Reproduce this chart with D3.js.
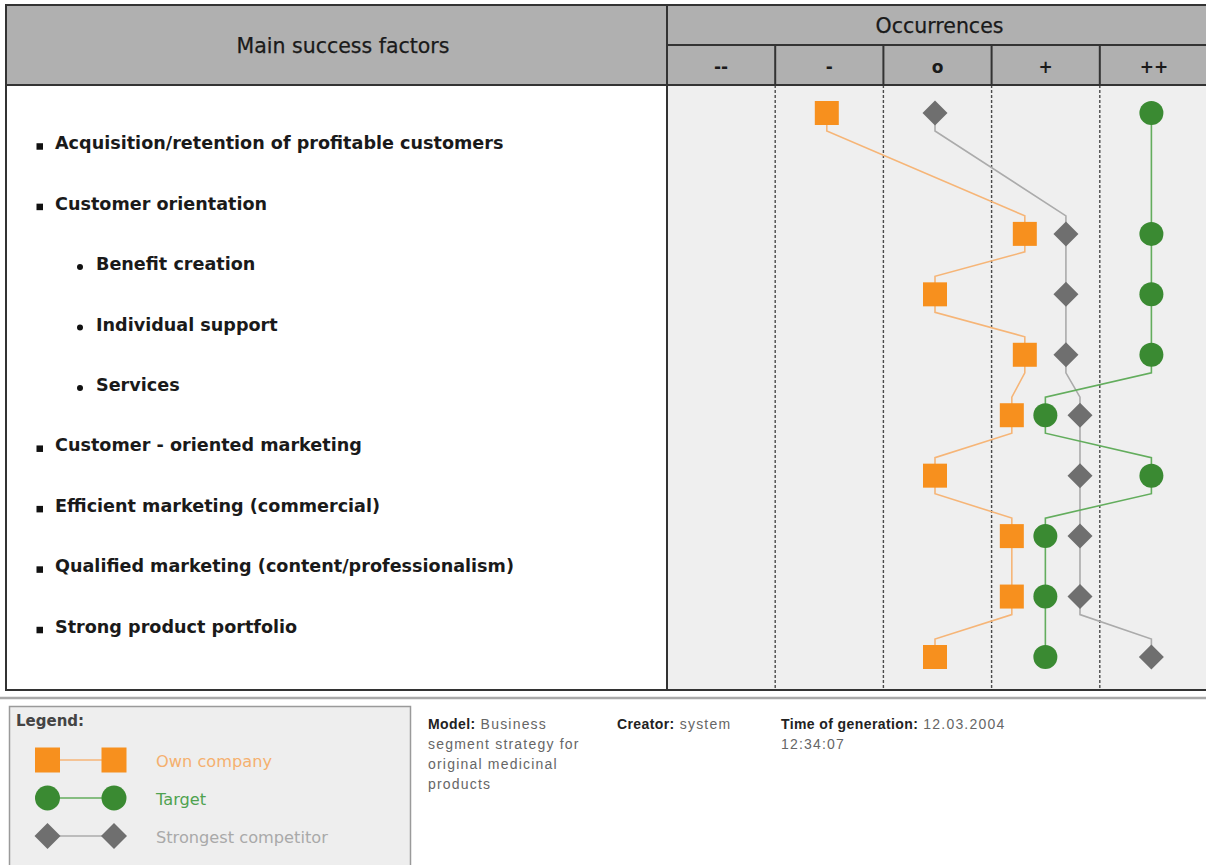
<!DOCTYPE html>
<html>
<head>
<meta charset="utf-8">
<title>Main success factors</title>
<script src="https://cdn.jsdelivr.net/npm/d3@7"></script>
<style>
  body { margin: 0; background: #fff; }
  svg { display: block; }
  .hdr { font-family: "DejaVu Sans", sans-serif; fill: #1a1a1a; stroke: #1a1a1a; stroke-width: 0.25px; }
  .lbl { font-family: "DejaVu Sans", sans-serif; font-weight: bold; fill: #1a1a1a; }
  .foot { font-family: "Liberation Sans", Arial, sans-serif; font-size: 14px; letter-spacing: 1.2px; fill: #666; }
  .foot .k { font-weight: bold; fill: #222; letter-spacing: 0.4px; }
</style>
</head>
<body>
<script>
// ---- data ----
let factors = [
  "Acquisition/retention of profitable customers",
  "Customer orientation",
  "Benefit creation",
  "Individual support",
  "Services",
  "Customer - oriented marketing",
  "Efficient marketing (commercial)",
  "Qualified marketing (content/professionalism)",
  "Strong product portfolio"
];
let levels = [1, 1, 2, 2, 2, 1, 1, 1, 1];
let occurrences = ["--", "-", "o", "+", "++"];
// 0 = "--" ... 4 = "++"
let ownCompany = [1.0, 2.83, 2.0, 2.83, 2.71, 2.0, 2.71, 2.71, 2.0];
let target     = [4.0, 4.0, 4.0, 4.0, 3.02, 4.0, 3.02, 3.02, 3.02];
let competitor = [2.0, 3.21, 3.21, 3.21, 3.34, 3.34, 3.34, 3.34, 4.0];

let seriesNames = ["Own company", "Target", "Strongest competitor"];

let chartW = 1206, chartH = 865;
let frameL = 6, frameT = 5, split = 667, frameR = 1208, headMid = 45, headBot = 85, bodyBot = 690;

let colors = {
  own: { mark: "#f7901e", line: "#f6b577", text: "#f5b06e" },
  target: { mark: "#3a8a32", line: "#63ad5d", text: "#4fa24f" },
  comp: { mark: "#6f6f6f", line: "#ababab", text: "#a9a9a9" }
};

let svg = d3.select("body").append("svg")
  .attr("width", chartW)
  .attr("height", chartH);

// scales
let xBand = d3.scaleBand().domain(occurrences).range([split, frameR]);
let x = d3.scaleLinear().domain([0, 4])
  .range([xBand(occurrences[0]) + xBand.bandwidth() / 2 - 2.5,
          xBand(occurrences[4]) + xBand.bandwidth() / 2 - 2.5]);
let y = d3.scaleLinear().domain([0, 9]).range([113, 657]);
let markSlot = function (i) { return i === 0 ? 0 : i + 1; };

// backgrounds
svg.append("rect").attr("x", frameL).attr("y", frameT).attr("width", frameR - frameL).attr("height", headBot - frameT)
  .attr("fill", "#b0b0b0");
svg.append("rect").attr("x", split).attr("y", headBot).attr("width", frameR - split).attr("height", bodyBot - headBot)
  .attr("fill", "#efefef");

// dashed column guides
svg.append("g").selectAll("line")
  .data(occurrences.slice(1))
  .join("line")
  .attr("x1", d => xBand(d)).attr("x2", d => xBand(d))
  .attr("y1", headBot).attr("y2", bodyBot)
  .attr("stroke", "#4a4a4a").attr("stroke-width", 1.4)
  .attr("stroke-dasharray", "3,2");

// header borders
let borders = svg.append("g").attr("stroke", "#333").attr("stroke-width", 2).attr("fill", "none");
borders.append("rect").attr("x", frameL).attr("y", frameT).attr("width", frameR - frameL).attr("height", bodyBot - frameT);
borders.append("line").attr("x1", frameL).attr("x2", frameR).attr("y1", headBot).attr("y2", headBot);
borders.append("line").attr("x1", split).attr("x2", frameR).attr("y1", headMid).attr("y2", headMid);
borders.append("line").attr("x1", split).attr("x2", split).attr("y1", frameT).attr("y2", bodyBot);
borders.selectAll("line.col")
  .data(occurrences.slice(1))
  .join("line").attr("class", "col")
  .attr("x1", d => xBand(d)).attr("x2", d => xBand(d))
  .attr("y1", headMid).attr("y2", headBot);

// header texts
svg.append("text").attr("class", "hdr").attr("x", 343).attr("y", 46)
  .attr("text-anchor", "middle").attr("dominant-baseline", "central")
  .style("font-size", "20.5px").text("Main success factors");
svg.append("text").attr("class", "hdr").attr("x", (split + frameR) / 2 + 2).attr("y", 26)
  .attr("text-anchor", "middle").attr("dominant-baseline", "central")
  .style("font-size", "20.5px").text("Occurrences");
svg.append("g").selectAll("text")
  .data(occurrences)
  .join("text").attr("class", "lbl")
  .attr("x", d => xBand(d) + xBand.bandwidth() / 2)
  .attr("y", 67)
  .attr("text-anchor", "middle").attr("dominant-baseline", "central")
  .style("font-size", "17px")
  .text(d => d);

// factor labels with bullets
let rows = svg.append("g").selectAll("g")
  .data(factors)
  .join("g")
  .attr("transform", (d, i) => "translate(0," + y(i + 0.5) + ")");
rows.each(function (d, i) {
  let g = d3.select(this);
  if (levels[i] === 1) {
    g.append("rect").attr("x", 36.5).attr("y", 0).attr("width", 6.5).attr("height", 6.5).attr("fill", "#111");
  } else {
    g.append("circle").attr("cx", 80).attr("cy", 3).attr("r", 3).attr("fill", "#111");
  }
});
rows.append("text").attr("class", "lbl")
  .attr("x", (d, i) => levels[i] === 1 ? 55 : 96)
  .attr("y", 0)
  .attr("dominant-baseline", "central")
  .style("font-size", "17.6px")
  .text(d => d);

// connecting lines with short vertical stubs
let stub = 18;
let linkPath = function (values) {
  let p = d3.path();
  values.forEach(function (v, i) {
    let px = x(v), py = y(markSlot(i));
    if (i === 0) {
      p.moveTo(px, py);
    } else {
      let qx = x(values[i - 1]), qy = y(markSlot(i - 1));
      p.lineTo(qx, qy + stub);
      p.lineTo(px, py - stub);
      p.lineTo(px, py);
    }
  });
  return p.toString();
};

let diamond = function (s) {
  return "M0," + (-s) + "L" + s + ",0L0," + s + "L" + (-s) + ",0Z";
};

let series = [
  { key: "own", values: ownCompany },
  { key: "comp", values: competitor },
  { key: "target", values: target }
];

let markShape = function (key, s) {
  if (key === "own") return d3.symbol(d3.symbolSquare, s * s)();
  if (key === "target") return d3.symbol(d3.symbolCircle, Math.PI * (s / 2) * (s / 2))();
  return diamond(s / 2 + 0.5);
};

svg.append("g").selectAll("path")
  .data(series)
  .join("path")
  .attr("d", d => linkPath(d.values))
  .attr("fill", "none")
  .attr("stroke", d => colors[d.key].line)
  .attr("stroke-width", 1.6);

series.forEach(function (s) {
  svg.append("g").selectAll("path")
    .data(s.values)
    .join("path")
    .attr("transform", (v, i) => "translate(" + x(v) + "," + y(markSlot(i)) + ")")
    .attr("d", markShape(s.key, 24))
    .attr("fill", colors[s.key].mark);
});

// bottom separator
svg.append("line").attr("x1", 0).attr("x2", chartW).attr("y1", 698).attr("y2", 698)
  .attr("stroke", "#a8a8a8").attr("stroke-width", 2.5);

// legend box
let legend = svg.append("g");
legend.append("rect").attr("x", 9.5).attr("y", 706.5).attr("width", 401).attr("height", 170)
  .attr("fill", "#eeeeee").attr("stroke", "#9a9a9a").attr("stroke-width", 1.5);
legend.append("text").attr("x", 16).attr("y", 726)
  .style("font-family", "DejaVu Sans, sans-serif").style("font-weight", "bold")
  .style("font-size", "15px").attr("fill", "#444").text("Legend:");

let legendKeys = ["own", "target", "comp"];
let legendY = d3.scalePoint().domain(legendKeys).range([760, 836]);
let legendRows = legend.selectAll("g.item")
  .data(legendKeys)
  .join("g").attr("class", "item")
  .attr("transform", d => "translate(0," + legendY(d) + ")");
legendRows.append("line")
  .attr("x1", 47.5).attr("x2", 114).attr("y1", 0).attr("y2", 0)
  .attr("stroke", d => colors[d].line).attr("stroke-width", 1.6);
[47.5, 114].forEach(function (cx) {
  legendRows.append("path")
    .attr("transform", "translate(" + cx + ",0)")
    .attr("d", d => markShape(d, 25))
    .attr("fill", d => colors[d].mark);
});
legendRows.append("text")
  .attr("x", 156).attr("y", 1)
  .attr("dominant-baseline", "central")
  .style("font-family", "DejaVu Sans, sans-serif").style("font-size", "16.2px")
  .attr("fill", d => colors[d].text)
  .text((d, i) => seriesNames[i]);

// footer info
let footer = [
  { x: 428, key: "Model:", lines: [" Business", "segment strategy for", "original medicinal", "products"] },
  { x: 617, key: "Creator:", lines: [" system"] },
  { x: 781, key: "Time of generation:", lines: [" 12.03.2004", "12:34:07"] }
];
footer.forEach(function (f) {
  f.lines.forEach(function (line, i) {
    let t = svg.append("text").attr("class", "foot").attr("x", f.x).attr("y", 729 + i * 20);
    if (i === 0) t.append("tspan").attr("class", "k").text(f.key);
    t.append("tspan").text(line);
  });
});
</script>
</body>
</html>
